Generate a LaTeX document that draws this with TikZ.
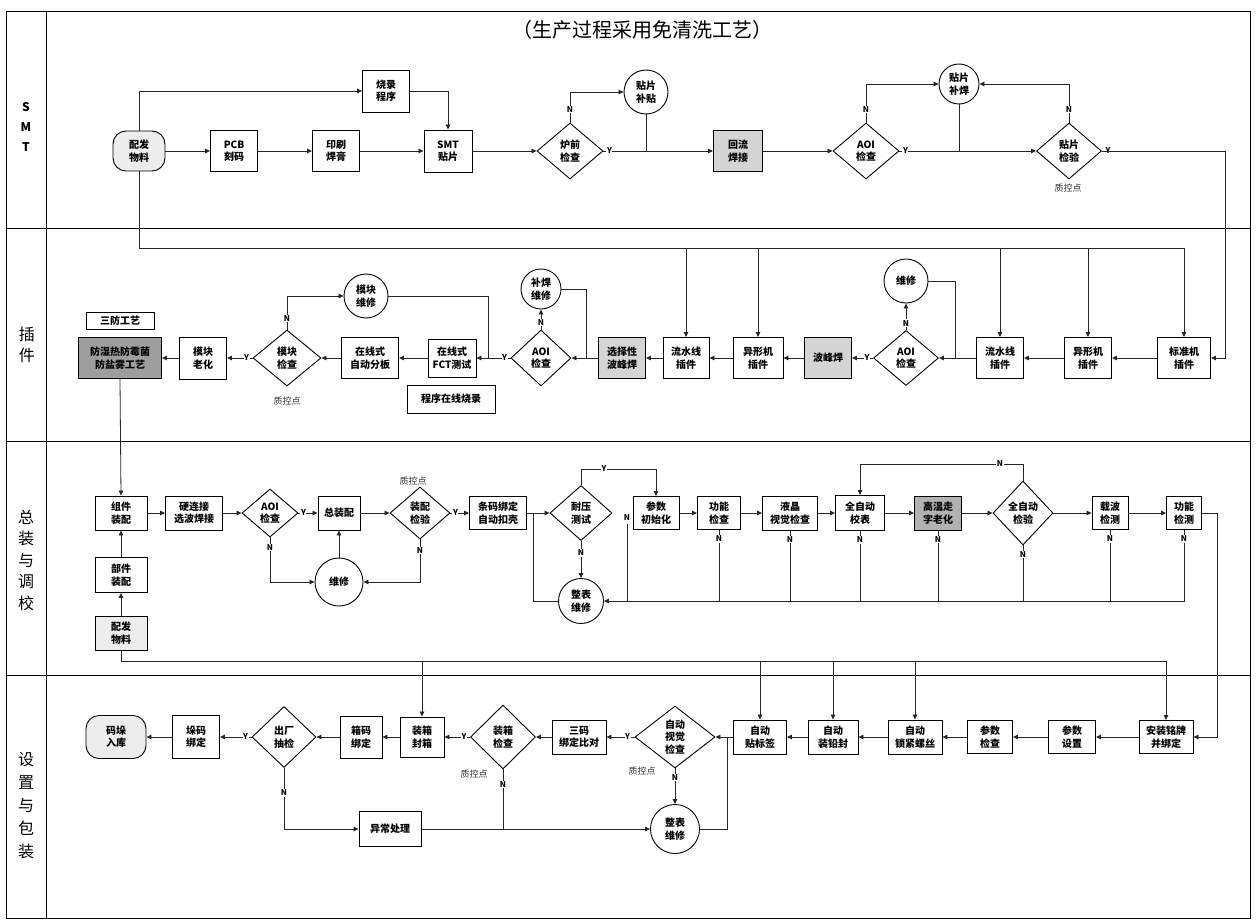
\documentclass[tikz,border=0pt]{standalone}
\usepackage{fontspec}
\setmainfont{Noto Sans CJK SC}
\usetikzlibrary{shapes.geometric,arrows.meta,calc}
\tikzset{
  base/.style={draw, line width=0.9pt, align=center, inner sep=1pt, fill=white, font=\fontsize{10}{12.5}\selectfont\bfseries},
  bx/.style 2 args={base, rectangle, minimum width=#1pt, minimum height=#2pt},
  gbx/.style 2 args={bx={#1}{#2}, fill=black!17},
  gbxd/.style 2 args={bx={#1}{#2}, fill=black!38},
  gbxm/.style 2 args={bx={#1}{#2}, fill=black!30},
  lbx/.style 2 args={bx={#1}{#2}, fill=black!7},
  term/.style 2 args={bx={#1}{#2}, rounded corners=13pt, fill=black!7},
  dm/.style 2 args={base, diamond, minimum width=#1pt, minimum height=#2pt, inner sep=0pt},
  cr/.style={base, circle, minimum size=#1pt, inner sep=0pt},
  yn/.style={font=\fontsize{8}{9}\selectfont\bfseries, fill=white, inner sep=0.6pt},
  note/.style={font=\fontsize{9}{10}\selectfont, text=black!80},
  ln/.style={line width=0.8pt, draw=black!85},
  arr/.style={ln, -{Triangle[length=5pt,width=4.5pt]}},
  lane/.style={align=center, font=\fontsize{16}{21}\selectfont},
}
\begin{document}
\begin{tikzpicture}[x=1pt,y=-1pt]
\useasboundingbox (0,0) rectangle (1258,923);
\fill[white] (0,0) rectangle (1258,923);
% frame and lanes
\draw[line width=1pt] (6,12) rectangle (1250,918);
\draw[line width=1pt] (46,12) -- (46,918);
\draw[line width=1pt] (6,228) -- (1250,228);
\draw[line width=1pt] (6,441) -- (1250,441);
\draw[line width=1pt] (6,675) -- (1250,675);
\node[font=\fontsize{20}{24}\selectfont] (title) at (642,30) {（生产过程采用免清洗工艺）};
\node[align=center, font=\fontsize{12}{20}\selectfont\bfseries] (l1) at (26,127) {S\\M\\T};
\node[lane] (l2) at (27,345) {插\\件};
\node[lane, font=\fontsize{16}{21.5}\selectfont] (l3) at (26,560) {总\\装\\与\\调\\校};
\node[lane, font=\fontsize{16}{23}\selectfont] (l4) at (26,806) {设\\置\\与\\包\\装};

% ---------------- SMT ----------------
\node[term={52}{40}] (pfA) at (139,151) {配发\\物料};
\node[bx={47}{41}] (pcb) at (234,151) {PCB\\刻码};
\node[bx={47}{41}] (yshg) at (336,151) {印刷\\焊膏};
\node[bx={47}{42}] (shlx) at (386,91) {烧录\\程序};
\node[bx={48}{42}] (smt) at (448,151) {SMT\\贴片};
\node[dm={66}{56}] (lqjc) at (570,151) {炉前\\检查};
\node[cr=44] (tpbt) at (646,92) {贴片\\补贴};
\node[gbx={49}{41}] (hlhj) at (738,151) {回流\\焊接};
\node[dm={66}{56}] (aoiA) at (866,151) {AOI\\检查};
\node[cr=40] (tpbh) at (959,84) {贴片\\补焊};
\node[dm={65}{56}] (tpjy) at (1069,151) {贴片\\检验};
\node[note] (zkA) at (1068,188) {质控点};

\draw[arr] (pfA) -- (pcb);
\draw[arr] (pcb) -- (yshg);
\draw[arr] (yshg) -- (smt);
\draw[arr] (pfA.north) |- (shlx.west);
\draw[arr] (shlx.east) -| (smt.north);
\draw[arr] (smt) -- (lqjc);
\draw[arr] (lqjc.north) |- (tpbt.west);
\draw[arr] (lqjc.east) -- (hlhj.west);
\draw[ln] (tpbt.south) -- (tpbt.south |- lqjc.east);
\draw[arr] (hlhj) -- (aoiA);
\draw[arr] (aoiA.north) |- (tpbh.west);
\draw[arr] (aoiA.east) -- (tpjy.west);
\draw[ln] (tpbh.south) -- (tpbh.south |- aoiA.east);
\draw[arr] (tpjy.north) |- (tpbh.east);
\node[yn] at ($(lqjc.north)+(0,-13)$) {N};
\node[yn] at ($(lqjc.east)+(6,0)$) {Y};
\node[yn] at ($(aoiA.north)+(0,-13)$) {N};
\node[yn] at ($(aoiA.east)+(6,0)$) {Y};
\node[yn] at ($(tpjy.north)+(0,-13)$) {N};
\node[yn] at ($(tpjy.east)+(6,0)$) {Y};

% ---------------- 插件 ----------------
\node[bx={53}{41}] (std) at (1184,358) {标准机\\插件};
\node[bx={47}{41}] (yxR) at (1088,358) {异形机\\插件};
\node[bx={47}{41}] (lsR) at (1000,358) {流水线\\插件};
\node[dm={65}{55}] (aoiB) at (906,358) {AOI\\检查};
\node[cr=44] (wxB) at (906,281) {维修};
\node[gbx={47}{41}] (bfh) at (828,358) {波峰焊};
\node[bx={50}{41}] (yxL) at (758,358) {异形机\\插件};
\node[bx={46}{41}] (lsL) at (686,358) {流水线\\插件};
\node[gbx={47}{41}] (xzx) at (622,358) {选择性\\波峰焊};
\node[dm={60}{56}] (aoiC) at (541,358) {AOI\\检查};
\node[cr=40] (bhwx) at (541,289) {补焊\\维修};
\node[bx={48}{38}] (fct) at (452,358) {在线式\\FCT测试};
\node[bx={88}{28}] (cxsl) at (451,399) {程序在线烧录};
\node[bx={57}{41}] (zdfb) at (370,358) {在线式\\自动分板};
\node[dm={68}{56}] (mkjc) at (287,358) {模块\\检查};
\node[cr=44] (mkwx) at (366,296) {模块\\维修};
\node[bx={47}{42}] (mklh) at (203,358) {模块\\老化};
\node[gbxd={83}{41}] (sfgy) at (120,358) {防湿热防霉菌\\防盐雾工艺};
\node[bx={68}{17}] (sflb) at (120,321) {三防工艺};
\node[note] (zkB) at (287,401) {质控点};

\coordinate (busA) at (139,248);
\draw[ln] (pfA.south) |- (std.north |- busA);
\draw[arr] (std.north |- busA) -- (std.north);
\draw[arr] (yxR.north |- busA) -- (yxR.north);
\draw[arr] (lsR.north |- busA) -- (lsR.north);
\draw[arr] (yxL.north |- busA) -- (yxL.north);
\draw[arr] (lsL.north |- busA) -- (lsL.north);
\draw[arr] (tpjy.east) -- (1225,151) |- (std.east);

\draw[arr] (std) -- (yxR);
\draw[arr] (yxR) -- (lsR);
\draw[arr] (lsR) -- (aoiB);
\draw[arr] (aoiB.north) -- (wxB.south);
\draw[ln] (wxB.east) -| (955,358);
\draw[arr] (aoiB.west) -- (bfh.east);
\draw[arr] (bfh) -- (yxL);
\draw[arr] (yxL) -- (lsL);
\draw[arr] (lsL) -- (xzx);
\draw[arr] (xzx) -- (aoiC);
\draw[arr] (aoiC.north) -- (bhwx.south);
\draw[ln] (bhwx.east) -| (586,358);
\draw[arr] (aoiC.west) -- (fct.east);
\draw[ln] (mkwx.east) -| (488,358);
\draw[arr] (fct) -- (zdfb);
\draw[arr] (zdfb) -- (mkjc);
\draw[arr] (mkjc.north) |- (mkwx.west);
\draw[arr] (mkjc.west) -- (mklh.east);
\draw[arr] (mklh) -- (sfgy);
\node[yn] at ($(aoiB.north)+(0,-7)$) {N};
\node[yn] at ($(aoiB.west)+(-6,0)$) {Y};
\node[yn] at ($(aoiC.north)+(0,-7)$) {N};
\node[yn] at ($(aoiC.west)+(-6,0)$) {Y};
\node[yn] at ($(mkjc.north)+(0,-11)$) {N};
\node[yn] at ($(mkjc.west)+(-6,0)$) {Y};

% ---------------- 总装与调校 ----------------
\node[bx={52}{34}] (zj) at (121,513) {组件\\装配};
\node[bx={52}{35}] (bj) at (121,575) {部件\\装配};
\node[lbx={52}{34}] (pfB) at (121,633) {配发\\物料};
\node[bx={57}{34}] (yl) at (194,513) {硬连接\\选波焊接};
\node[dm={56}{48}] (aoiD) at (270,513) {AOI\\检查};
\node[bx={42}{34}] (zzp) at (339,513) {总装配};
\node[cr=48] (wxD) at (339,582) {维修};
\node[dm={60}{52}] (zpjy) at (420,513) {装配\\检验};
\node[note] (zkC) at (413,481) {质控点};
\node[bx={57}{33}] (tm) at (498,513) {条码绑定\\自动扣壳};
\node[dm={62}{55}] (ny) at (581,513) {耐压\\测试};
\node[cr=45] (zbwxA) at (581,601) {整表\\维修};
\node[bx={46}{33}] (cs) at (656,513) {参数\\初始化};
\node[bx={43}{33}] (gn) at (719,513) {功能\\检查};
\node[bx={55}{34}] (yj) at (790,513) {液晶\\视觉检查};
\node[bx={49}{35}] (qz) at (860,513) {全自动\\校表};
\node[gbxm={47}{34}] (gw) at (938,513) {高温走\\字老化};
\node[dm={60}{64}] (qzj) at (1023,513) {全自动\\检验};
\node[bx={36}{33}] (zb) at (1110,513) {载波\\检测};
\node[bx={35}{33}] (gnjc) at (1184,513) {功能\\检测};
\coordinate (cn) at (627,524);

\draw[arr] (sfgy.south) -- (zj.north);
\draw[arr] (pfB) -- (bj);
\draw[arr] (bj) -- (zj);
\draw[arr] (zj) -- (yl);
\draw[arr] (yl) -- (aoiD);
\draw[arr] (aoiD) -- (zzp);
\draw[arr] (aoiD.south) |- (wxD.west);
\draw[arr] (wxD) -- (zzp);
\draw[arr] (zzp) -- (zpjy);
\draw[arr] (zpjy.south) |- (wxD.east);
\draw[arr] (zpjy) -- (tm);
\draw[arr] (tm) -- (ny);
\draw[ln] (zbwxA.west) -| (533,513);
\draw[arr] (ny.north) -- (581,469) -| (cs.north);
\draw[arr] (ny.south) -- (zbwxA.north);
\draw[arr] (cs) -- (gn);
\draw[arr] (gn) -- (yj);
\draw[arr] (yj) -- (qz);
\draw[arr] (qz) -- (gw);
\draw[arr] (gw) -- (qzj);
\draw[arr] (qzj) -- (zb);
\draw[arr] (zb) -- (gnjc);
\draw[arr] (qzj.north) -- (1023,464) -| (qz.north);
\draw[arr] (gnjc.south) |- (zbwxA.east);
\foreach \n in {zb,qzj,gw,qz,yj,gn} {
  \draw[ln] (\n.south) -- (\n.south |- zbwxA.east);
  \node[yn] at ($(\n.south)+(0,9)$) {N};
}
\draw[ln] (cn) -- (cn |- zbwxA.east);
\node[yn] at ($(cn)+(0,-6)$) {N};
\node[yn] at ($(gnjc.south)+(0,9)$) {N};
\node[yn] at ($(aoiD.east)+(5,0)$) {Y};
\node[yn] at ($(aoiD.south)+(0,10)$) {N};
\node[yn] at ($(zpjy.south)+(0,11)$) {N};
\node[yn] at ($(zpjy.east)+(5,0)$) {Y};
\node[yn] at (604,469) {Y};
\node[yn] at ($(ny.south)+(0,12)$) {N};
\node[yn] at (1000,464) {N};

% ---------------- 设置与包装 ----------------
\node[bx={54}{33}] (anz) at (1166,737) {安装铭牌\\并绑定};
\node[bx={47}{33}] (cssz) at (1072,737) {参数\\设置};
\node[bx={45}{33}] (csjc) at (990,737) {参数\\检查};
\node[bx={54}{34}] (zdls) at (915,737) {自动\\锁紧螺丝};
\node[bx={50}{34}] (zdqf) at (833,737) {自动\\装铅封};
\node[bx={53}{34}] (zdbq) at (760,737) {自动\\贴标签};
\node[dm={80}{62}] (zdsj) at (675,737) {自动\\视觉\\检查};
\node[note] (zkD) at (642,771) {质控点};
\node[cr=49] (zbwxB) at (675,829) {整表\\维修};
\node[bx={54}{34}] (smbd) at (579,737) {三码\\绑定比对};
\node[dm={65}{64}] (zxjc) at (503,737) {装箱\\检查};
\node[note] (zkE) at (474,774) {质控点};
\node[bx={44}{40}] (zxfx) at (422,737) {装箱\\封箱};
\node[bx={42}{42}] (xmbd) at (361,737) {箱码\\绑定};
\node[dm={64}{61}] (ccjc) at (284,737) {出厂\\抽检};
\node[bx={47}{43}] (dmbd) at (196,737) {垛码\\绑定};
\node[term={60}{43}] (mdrk) at (116,737) {码垛\\入库};
\node[bx={62}{35}] (ycl) at (390,829) {异常处理};

\coordinate (busB) at (121,661);
\draw[arr] (gnjc.east) -- (1217,513) |- (anz.east);
\draw[ln] (pfB.south) |- (anz.north |- busB);
\draw[arr] (anz.north |- busB) -- (anz.north);
\draw[arr] (zdls.north |- busB) -- (zdls.north);
\draw[arr] (zdqf.north |- busB) -- (zdqf.north);
\draw[arr] (zdbq.north |- busB) -- (zdbq.north);
\draw[arr] (zxfx.north |- busB) -- (zxfx.north);

\draw[arr] (anz) -- (cssz);
\draw[arr] (cssz) -- (csjc);
\draw[arr] (csjc) -- (zdls);
\draw[arr] (zdls) -- (zdqf);
\draw[arr] (zdqf) -- (zdbq);
\draw[arr] (zdbq) -- (zdsj);
\draw[ln] (zbwxB.east) -| (727,737);
\draw[arr] (zdsj.south) -- (zbwxB.north);
\draw[arr] (zdsj.west) -- (smbd.east);
\draw[arr] (smbd) -- (zxjc);
\draw[arr] (zxjc.west) -- (zxfx.east);
\draw[ln] (zxjc.south) -- (zxjc.south |- ycl.east);
\draw[arr] (ycl.east) -- (zbwxB.west);
\draw[arr] (zxfx) -- (xmbd);
\draw[arr] (xmbd) -- (ccjc);
\draw[arr] (ccjc.west) -- (dmbd.east);
\draw[arr] (dmbd) -- (mdrk);
\draw[arr] (ccjc.south) |- (ycl.west);
\node[yn] at ($(zdsj.south)+(0,9)$) {N};
\node[yn] at ($(zdsj.west)+(-7,0)$) {Y};
\node[yn] at ($(zxjc.west)+(-6,0)$) {Y};
\node[yn] at ($(zxjc.south)+(0,15)$) {N};
\node[yn] at ($(ccjc.west)+(-6,0)$) {Y};
\node[yn] at ($(ccjc.south)+(0,25)$) {N};
\end{tikzpicture}
\end{document}
